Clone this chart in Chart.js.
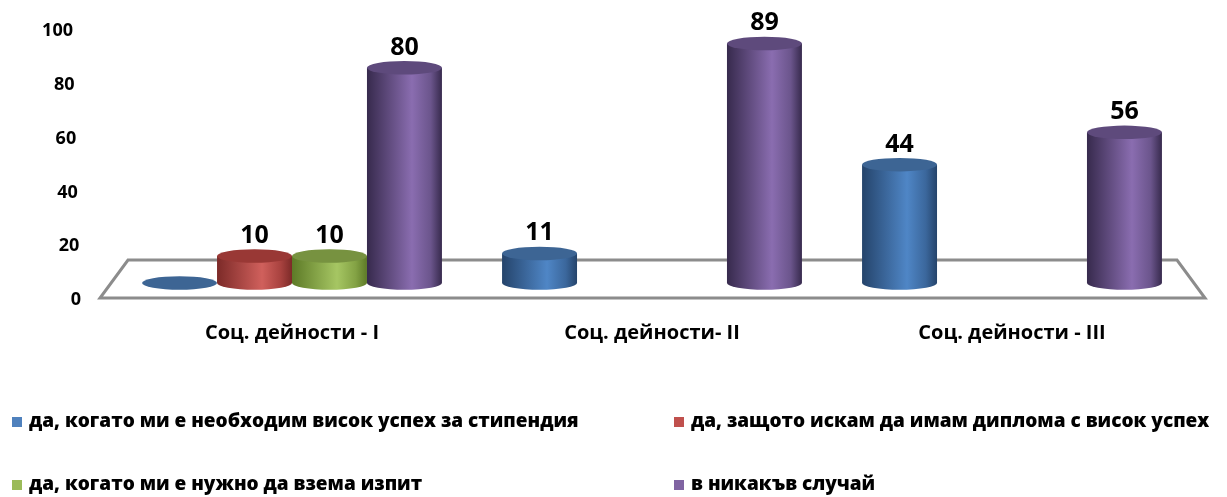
<!DOCTYPE html>
<html>
<head>
<meta charset="utf-8">
<script src="https://cdn.jsdelivr.net/npm/chart.js@4"></script>
<style>
html, body { margin: 0; padding: 0; background: #fff; }
#wrap { width: 1227px; height: 497px; }
</style>
</head>
<body>
<div id="wrap"><canvas id="chart"></canvas></div>
<script>
const categories = ["Соц. дейности - I", "Соц. дейности- II", "Соц. дейности - III"]
const seriesNames = [
    "да, когато ми е необходим висок успех за стипендия",
    "да, защото искам да имам диплома с висок успех",
    "да, когато ми е нужно да взема изпит",
    "в никакъв случай"
]
const scholarship = [0, 11, 44]
const diploma = [10, null, null]
const exam = [10, null, null]
const never = [80, 89, 56]
const yMax = 100, yStep = 20

// dark edge, light middle, right side, top cap
const palette = [
    {dark: "#25446b", light: "#4f86c6", side: "#3b679c", top: "#3d6594", key: "#4f81bd"},
    {dark: "#7c2a28", light: "#d0605c", side: "#a8423f", top: "#993835", key: "#c0504d"},
    {dark: "#5d7a27", light: "#a6c663", side: "#83a244", top: "#779240", key: "#9bbb59"},
    {dark: "#372a4d", light: "#8a6db0", side: "#6b558c", top: "#5e4a7c", key: "#8064a2"}
]

const depthY = -17
const font = "'Open Sans', 'DejaVu Sans', sans-serif"

const floor = {
    id: "floor",
    beforeDatasetsDraw(chart){
        const {ctx, chartArea: a, scales: {y}} = chart
        const y0 = y.getPixelForValue(0)
        ctx.save()
        ctx.strokeStyle = "#8c8c8c"
        ctx.lineWidth = 3
        ctx.fillStyle = "#fff"
        ctx.beginPath()
        ctx.moveTo(a.left - 12, y0 - 2)
        ctx.lineTo(a.right + 13, y0 - 2)
        ctx.lineTo(a.right - 15, y0 - 40)
        ctx.lineTo(a.left + 16, y0 - 40)
        ctx.closePath()
        ctx.fill()
        ctx.stroke()
        ctx.restore()
    }
}

// y labels drawn by hand so the tick padding does not push the plot down
const yLabels = {
    id: "yLabels",
    afterDraw(chart){
        const {ctx, scales: {y}} = chart
        ctx.save()
        ctx.fillStyle = "#000"
        ctx.font = "bold 18px " + font
        ctx.textAlign = "right"
        ctx.textBaseline = "middle"
        y.ticks.forEach(t=>{
            ctx.fillText(t.value, 81 - t.value * 0.08, y.getPixelForValue(t.value))
        })
        ctx.restore()
    }
}

const cylinders = {
    id: "cylinders",
    afterDatasetsDraw(chart){
        const ctx = chart.ctx
        ctx.save()
        categories.forEach((c, i)=>{
            chart.data.datasets.forEach((ds, d)=>{
                const v = ds.data[i]
                if(v === null) return
                const el = chart.getDatasetMeta(d).data[i]
                const col = palette[d]
                const rx = el.width / 2, ry = el.width * 0.09
                const cx = el.x, top = el.y + depthY, bottom = el.base + depthY
                if(v > 0){
                    const g = ctx.createLinearGradient(cx - rx, 0, cx + rx, 0)
                    g.addColorStop(0, col.dark)
                    g.addColorStop(0.6, col.light)
                    g.addColorStop(0.85, col.side)
                    g.addColorStop(1, col.dark)
                    ctx.fillStyle = g
                    ctx.beginPath()
                    ctx.moveTo(cx - rx, top)
                    ctx.lineTo(cx - rx, bottom)
                    ctx.ellipse(cx, bottom, rx, ry, 0, Math.PI, 0, true)
                    ctx.lineTo(cx + rx, top)
                    ctx.closePath()
                    ctx.fill()
                }
                ctx.fillStyle = col.top
                ctx.beginPath()
                ctx.ellipse(cx, top, rx, ry, 0, 0, Math.PI * 2)
                ctx.fill()
                if(v > 0){
                    ctx.fillStyle = "#000"
                    ctx.font = "bold 25px " + font
                    ctx.textAlign = "center"
                    ctx.textBaseline = "bottom"
                    ctx.fillText(v, cx, top - ry - 1)
                }
            })
        })
        ctx.restore()
    }
}

const legendBox = {
    id: "legendBox",
    afterDraw(chart){
        const ctx = chart.ctx
        const cols = [12, 674], rows = [422, 485]
        ctx.save()
        ctx.font = "800 19px " + font
        ctx.textBaseline = "middle"
        ctx.textAlign = "left"
        seriesNames.forEach((name, i)=>{
            const x = cols[i % 2], y = rows[Math.floor(i / 2)]
            ctx.fillStyle = palette[i].key
            ctx.fillRect(x, y - 5, 10, 10)
            ctx.fillStyle = "#000"
            ctx.fillText(name, x + 17, y)
        })
        ctx.restore()
    }
}

const chart = new Chart(document.querySelector("#chart"), {
    type: "bar",
    data: {
        labels: categories,
        datasets: [scholarship, diploma, exam, never].map((v, i)=>{
            return {
                label: seriesNames[i],
                data: v,
                backgroundColor: "rgba(0,0,0,0)",
                borderWidth: 0,
                categoryPercentage: 0.833,
                barPercentage: 1
            }
        })
    },
    options: {
        responsive: true,
        maintainAspectRatio: false,
        animation: false,
        layout: {padding: {left: 0, right: 35, top: 31, bottom: 137}},
        plugins: {
            legend: {display: false},
            tooltip: {enabled: false}
        },
        scales: {
            x: {
                grid: {display: false, drawTicks: false},
                border: {display: false},
                ticks: {color: "#000", padding: 21, font: {family: font, size: 20, weight: "bold"}},
                afterFit: s=>{ s.height = 60 }
            },
            y: {
                min: 0,
                max: yMax,
                grid: {display: false, drawTicks: false},
                border: {display: false},
                ticks: {stepSize: yStep, display: false},
                afterFit: s=>{ s.width = 112 }
            }
        }
    },
    plugins: [floor, cylinders, yLabels, legendBox]
})
</script>
</body>
</html>
